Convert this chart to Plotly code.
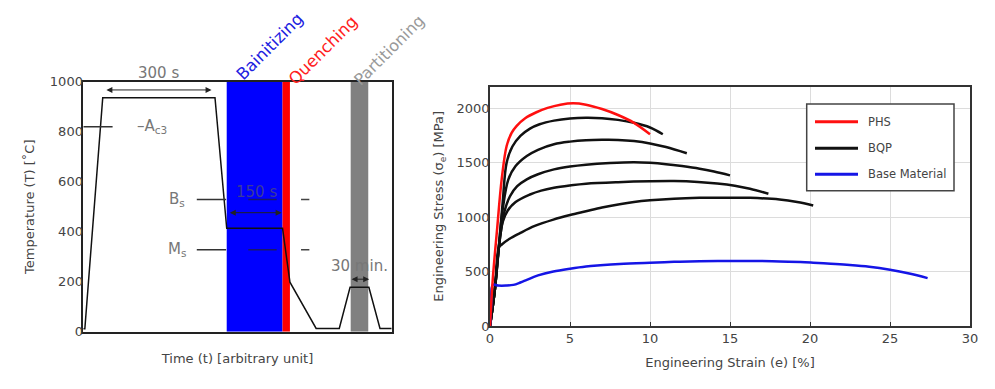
import plotly.graph_objects as go

# ---------------- Left panel: heat-treatment schedule ----------------
time_au = [0, 0.5, 6.3, 42.7, 46.5, 64.6, 67.0, 75.5, 83.0, 86.5, 92.6, 96.2, 100]
temp_c = [12, 12, 936, 936, 414, 414, 198, 13, 13, 178, 178, 13, 13]
temp_ticks = [0, 200, 400, 600, 800, 1000]

stage_names = ["Bainitizing", "Quenching", "Partitioning"]
stage_start = [46.5, 64.6, 86.7]
stage_end = [64.6, 67.0, 92.4]

crit_names = ["A<sub>c3</sub>", "B<sub>s</sub>", "M<sub>s</sub>"]
crit_temp = [820, 529, 328]

hold_labels = ["300 s", "150 s", "30 min."]
hold_start = [7.0, 47.0, 86.5]
hold_end = [41.6, 64.3, 92.7]
hold_temp = [967, 476, 210]

# ---------------- Right panel: engineering stress-strain ----------------
phs_strain = [0, 0.17, 0.45, 0.73, 1.04, 1.35, 1.67, 2.2, 2.9, 3.6, 4.4, 5.2, 6.0, 7.0, 8.0, 9.0, 10.0]
phs_stress = [0, 424, 900, 1348, 1655, 1775, 1840, 1910, 1965, 2005, 2035, 2048, 2035, 1995, 1940, 1868, 1763]

bqp1_strain = [0, 0.3, 0.55, 0.8, 1.04, 1.4, 1.9, 2.5, 3.1, 4.0, 5.0, 6.0, 7.0, 8.0, 9.0, 10.0, 10.8]
bqp1_stress = [0, 330, 720, 1150, 1502, 1650, 1748, 1815, 1855, 1888, 1908, 1915, 1911, 1895, 1868, 1825, 1763]
bqp2_strain = [0, 0.3, 0.55, 0.8, 1.15, 1.6, 2.3, 3.0, 4.0, 5.0, 6.0, 7.0, 8.0, 9.0, 10.0, 11.0, 12.3]
bqp2_stress = [0, 330, 720, 1080, 1348, 1470, 1563, 1620, 1671, 1695, 1708, 1712, 1711, 1700, 1678, 1645, 1588]
bqp3_strain = [0, 0.3, 0.55, 0.9, 1.25, 1.7, 2.3, 3.0, 4.0, 5.0, 6.0, 7.5, 9.0, 10.0, 11.0, 12.0, 13.1, 14.0, 15.0]
bqp3_stress = [0, 330, 720, 1050, 1193, 1285, 1348, 1395, 1440, 1466, 1483, 1498, 1505, 1500, 1488, 1470, 1446, 1420, 1385]
bqp4_strain = [0, 0.3, 0.55, 0.8, 1.1, 1.6, 2.5, 3.2, 4.0, 5.0, 6.0, 8.0, 10.0, 11.5, 13.0, 14.2, 15.3, 16.25, 17.4]
bqp4_stress = [0, 330, 720, 960, 1060, 1140, 1209, 1245, 1271, 1292, 1308, 1322, 1330, 1332, 1325, 1311, 1290, 1262, 1216]
bqp5_strain = [0, 0.3, 0.55, 0.7, 1.2, 1.9, 2.8, 3.96, 5.0, 6.0, 7.0, 8.1, 9.0, 10.0, 11.5, 13.1, 14.5, 16.25, 18.1, 19.2, 20.2]
bqp5_stress = [0, 330, 720, 745, 800, 856, 920, 978, 1020, 1055, 1090, 1120, 1140, 1155, 1170, 1178, 1180, 1178, 1163, 1140, 1108]

base_strain = [0, 0.08, 0.17, 0.5, 1.0, 1.46, 1.9, 2.3, 3.0, 3.96, 5.0, 6.0, 6.9, 8.1, 10.0, 11.5, 13.1, 15.2,
               17.0, 18.1, 19.4, 20.2, 21.3, 22.3, 23.7, 25.0, 26.2, 27.35]
base_stress = [0, 200, 378, 372, 372, 378, 400, 424, 465, 501, 527, 547, 558, 570, 582, 590, 595, 598,
               597, 594, 588, 582, 573, 563, 545, 517, 482, 440]

stress_ticks = [0, 500, 1000, 1500, 2000]
strain_ticks = [0, 5, 10, 15, 20, 25, 30]
legend_names = ["PHS", "BQP", "Base Material"]

# ---------------- figure ----------------
# The page body keeps its default 8 px margin, so the figure is sized to fill the window exactly.
OFF = 8
W, H = 995 - 2 * OFF, 389 - 2 * OFF


def PX(p):
    return (p - OFF) / W


def PY(p):
    return 1 - (p - OFF) / H


FONT = "DejaVu Sans, Arial, sans-serif"
TXT = "#444444"
GRAYTXT = "#777777"

fig = go.Figure()

# stress-strain curves (BQP, base, then PHS on top)
for sx, sy in [(bqp1_strain, bqp1_stress), (bqp2_strain, bqp2_stress), (bqp3_strain, bqp3_stress),
               (bqp4_strain, bqp4_stress), (bqp5_strain, bqp5_stress)]:
    fig.add_trace(go.Scatter(x=sx, y=sy, mode="lines", xaxis="x2", yaxis="y2",
                             line=dict(color="#111111", width=2.5, shape="spline"), name=legend_names[1]))
fig.add_trace(go.Scatter(x=base_strain, y=base_stress, mode="lines", xaxis="x2", yaxis="y2",
                         line=dict(color="#1515e6", width=2.5, shape="spline"), name=legend_names[2]))
fig.add_trace(go.Scatter(x=phs_strain, y=phs_stress, mode="lines", xaxis="x2", yaxis="y2",
                         line=dict(color="#ff1010", width=2.5, shape="spline"), name=legend_names[0]))

# temperature profile
fig.add_trace(go.Scatter(x=time_au, y=temp_c, mode="lines", xaxis="x", yaxis="y",
                         line=dict(color="#111111", width=1.5), hoverinfo="skip"))

# critical temperature reference segments
seg_sets = [
    [(0, 9.5)],
    [(36.8, 46.3), (53.5, 62.7), (70.6, 73.3)],
    [(36.8, 46.3), (53.5, 62.7), (70.6, 73.3)],
]
seg_colors = [["#333333"], ["#333333", "#1a1a66", "#444444"], ["#333333", "#1a1a66", "#444444"]]
for t, segs, cols in zip(crit_temp, seg_sets, seg_colors):
    for (a, b), c in zip(segs, cols):
        fig.add_trace(go.Scatter(x=[a, b], y=[t, t], mode="lines", xaxis="x", yaxis="y",
                                 line=dict(color=c, width=1.5), hoverinfo="skip"))

shapes = []
stage_fill = ["#0000ff", "#ff0000", "#808080"]
for a, b, c in zip(stage_start, stage_end, stage_fill):
    shapes.append(dict(type="rect", xref="x", yref="y", x0=a, x1=b, y0=0, y1=1000,
                       fillcolor=c, line=dict(width=0), layer="below"))

# manual legend box
shapes.append(dict(type="rect", xref="paper", yref="paper", x0=PX(806.7), x1=PX(954), y0=PY(190.7), y1=PY(104),
                   fillcolor="white", line=dict(color="#444444", width=1.5), layer="above"))
leg_cols = ["#ff1010", "#111111", "#1515e6"]
leg_y = [121.7, 148.3, 174.3]
annotations = []
for name, c, yy in zip(legend_names, leg_cols, leg_y):
    shapes.append(dict(type="line", xref="paper", yref="paper", x0=PX(815), x1=PX(858), y0=PY(yy), y1=PY(yy),
                       line=dict(color=c, width=3), layer="above"))
    annotations.append(dict(xref="paper", yref="paper", x=PX(866), y=PY(yy), text=name, showarrow=False,
                            xanchor="left", yanchor="middle", font=dict(family=FONT, size=11.5, color=TXT)))

# stage labels rotated
stage_centers = [(270, 47), (323, 51), (389, 51)]
stage_sizes = [16.5, 16.5, 16]
stage_txtcol = ["#2020e0", "#ff2020", "#999999"]
for name, (cx, cy), sz, c in zip(stage_names, stage_centers, stage_sizes, stage_txtcol):
    annotations.append(dict(xref="paper", yref="paper", x=PX(cx), y=PY(cy), text=name, showarrow=False,
                            textangle=-45, xanchor="center", yanchor="middle",
                            font=dict(family=FONT, size=sz, color=c)))

# holding arrows
for a, b, t in zip(hold_start, hold_end, hold_temp):
    annotations.append(dict(xref="x", yref="y", axref="x", ayref="y", x=b, y=t, ax=a, ay=t, text="",
                            showarrow=True, arrowhead=2, arrowside="end+start", arrowsize=1.2, arrowwidth=1,
                            arrowcolor="#222222"))
# holding labels: "300 s" sits above the frame (paper coords), others inside
annotations.append(dict(xref="paper", yref="paper", x=PX(158.3), y=PY(72.7), text=hold_labels[0], showarrow=False,
                        xanchor="center", yanchor="middle", font=dict(family=FONT, size=15, color=GRAYTXT)))
annotations.append(dict(xref="x", yref="y", x=56.3, y=560, text=hold_labels[1], showarrow=False,
                        xanchor="center", yanchor="middle", font=dict(family=FONT, size=15, color="#3a3a9a")))
annotations.append(dict(xref="x", yref="y", x=89.7, y=262, text=hold_labels[2], showarrow=False,
                        xanchor="center", yanchor="middle", font=dict(family=FONT, size=15, color=GRAYTXT)))

# critical temperature labels
annotations.append(dict(xref="x", yref="y", x=16.8, y=crit_temp[0], text="\u2013" + crit_names[0], showarrow=False,
                        xanchor="left", yanchor="middle", font=dict(family=FONT, size=15, color=GRAYTXT)))
for name, t in zip(crit_names[1:], crit_temp[1:]):
    annotations.append(dict(xref="x", yref="y", x=30.5, y=t, text=name, showarrow=False,
                            xanchor="center", yanchor="middle", font=dict(family=FONT, size=15, color=GRAYTXT)))

fig.update_layout(
    width=W, height=H, margin=dict(l=0, r=0, t=0, b=0, pad=0, autoexpand=False),
    paper_bgcolor="white", plot_bgcolor="white", showlegend=False,
    font=dict(family=FONT, size=13, color=TXT),
    xaxis=dict(domain=[PX(83.3), PX(391.7)], range=[0, 100], showticklabels=False, ticks="",
               showgrid=False, zeroline=False, showline=True, mirror=True, linecolor="#222222", linewidth=1.5,
               automargin=False,
               title=dict(text="Time (t) [arbitrary unit]", standoff=21, font=dict(size=13, color=TXT)),
               anchor="y"),
    yaxis=dict(domain=[PY(331.7), PY(81.7)], range=[0, 1000], tickvals=temp_ticks, ticks="",
               ticklabelstandoff=-4,
               showgrid=False, zeroline=False, showline=True, mirror=True, linecolor="#222222", linewidth=1.5,
               automargin=False, tickfont=dict(size=13, color=TXT),
               title=dict(text="Temperature (T) [\u02daC]", standoff=12, font=dict(size=13, color=TXT)),
               anchor="x"),
    xaxis2=dict(domain=[PX(490), PX(970)], range=[0, 30], tickvals=strain_ticks, ticks="inside", ticklen=4,
                tickcolor="#333333", showgrid=True, gridcolor="#dcdcdc", gridwidth=1, zeroline=False,
                showline=True, mirror=True, linecolor="#333333", linewidth=1.5,
                automargin=False, tickfont=dict(size=13, color=TXT),
                title=dict(text="Engineering Strain (e) [%]", standoff=13, font=dict(size=13, color=TXT)),
                anchor="y2"),
    yaxis2=dict(domain=[PY(326), PY(86.7)], range=[0, 2200], tickvals=stress_ticks, ticks="",
                ticklabelstandoff=-4,
                showgrid=True, gridcolor="#dcdcdc", gridwidth=1, zeroline=False,
                showline=True, mirror=True, linecolor="#333333", linewidth=1.5,
                automargin=False, tickfont=dict(size=13, color=TXT),
                title=dict(text="Engineering Stress (\u03c3<sub>e</sub>) [MPa]", standoff=10,
                           font=dict(size=13, color=TXT)),
                anchor="x2"),
    shapes=shapes, annotations=annotations,
)

fig.write_html("out.html")
